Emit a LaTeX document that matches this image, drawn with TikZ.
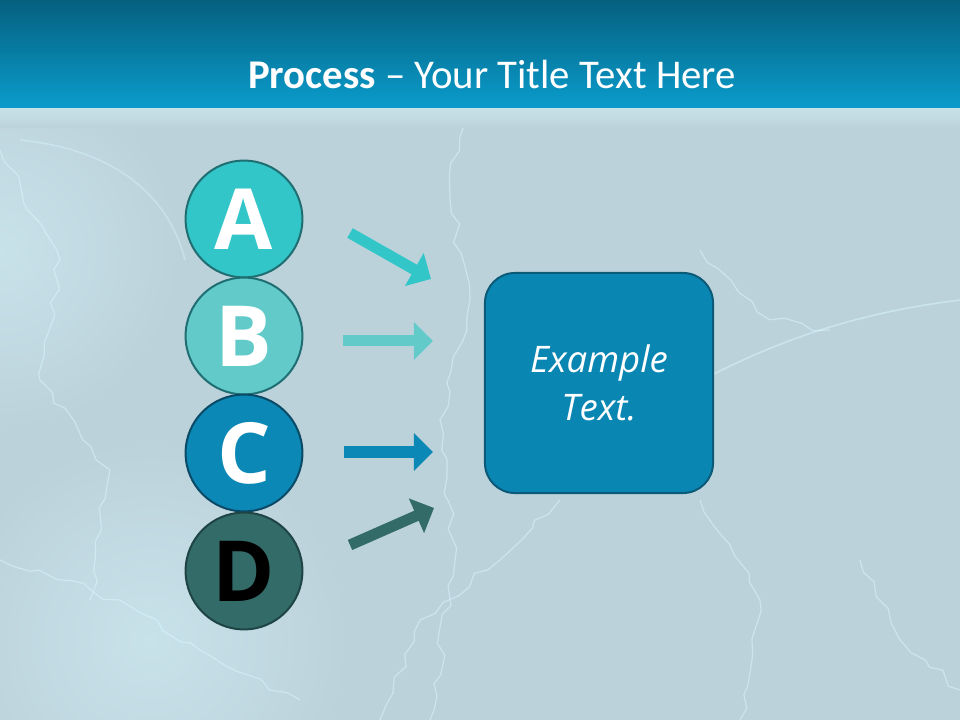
\documentclass[tikz,border=0pt]{standalone}
\usepackage{fontspec}
\setmainfont{Open Sans}
\newfontfamily\titlefont{Carlito}
\usetikzlibrary{arrows.meta, decorations.pathmorphing}

\definecolor{hdrtop}{HTML}{05607F}
\definecolor{hdrbot}{HTML}{0A9CCC}
\definecolor{bgfill}{HTML}{BCD2DB}
\definecolor{bglight}{HTML}{C8E2EA}
\definecolor{spark}{HTML}{D8F6FF}
\definecolor{colA}{HTML}{33C6C8}
\definecolor{colB}{HTML}{62CBC9}
\definecolor{colC}{HTML}{0B88B5}
\definecolor{colD}{HTML}{336B69}
\definecolor{lineA}{HTML}{1F6E72}
\definecolor{lineC}{HTML}{0A4A66}
\definecolor{lineD}{HTML}{1F4444}
\definecolor{boxfill}{HTML}{0A86B3}
\definecolor{boxline}{HTML}{0B5A78}

\begin{document}
\begin{tikzpicture}[
    x=0.025cm, y=-0.025cm,
    letter/.style={circle, draw, line width=0.05cm, minimum size=2.92cm, inner sep=0pt,
        font=\fontsize{60}{60}\selectfont\bfseries},
    flow/.style={line width=0.275cm, -{Triangle[length=0.48cm, width=0.92cm]}},
    result/.style={draw=boxline, fill=boxfill, line width=0.05cm, rounded corners=0.75cm,
        minimum width=5.7cm, minimum height=5.5cm, align=center, text=white,
        font=\fontsize{26}{34}\selectfont\itshape},
    bolt/.style={draw=spark, opacity=0.55, line width=0.03cm,
        decorate, decoration={random steps, segment length=0.35cm, amplitude=0.12cm}},
]
    \useasboundingbox (0,0) rectangle (960,720);
    \clip (0,0) rectangle (960,720);
    % background and title band
    \fill[bgfill] (0,0) rectangle (960,720);
    \shade[inner color=bglight, outer color=bgfill] (0,250) circle[radius=180];
    \shade[inner color=bglight, outer color=bgfill] (150,640) circle[radius=200];
    % lightning texture
    \draw[bolt] (462,110) -- (450,200) -- (470,300) -- (440,420) -- (455,560) -- (430,720);
    \draw[bolt] (0,150) -- (60,260) -- (40,380) -- (110,470) -- (90,600);
    \draw[bolt] (0,560) -- (120,600) -- (200,650) -- (300,700);
    \draw[bolt] (380,720) -- (420,620) -- (500,560) -- (560,500);
    \draw[bolt] (700,500) -- (760,600) -- (740,720);
    \draw[bolt] (700,250) -- (770,320) -- (830,330);
    \draw[bolt] (860,560) -- (900,640) -- (960,690);
    \draw[spark, opacity=0.5, line width=0.04cm] (712,375) .. controls (800,330) and (880,310) .. (960,300);
    \draw[spark, opacity=0.4, line width=0.04cm] (20,140) .. controls (120,150) and (170,200) .. (185,260);
    \shade[top color=bglight, bottom color=bgfill] (0,108) rectangle (960,128);
    \shade[top color=hdrtop, bottom color=hdrbot] (0,0) rectangle (960,108);
    \node[text=white, font=\titlefont\fontsize{29}{29}\selectfont] (title) at (492,74)
        {\textbf{Process} – Your Title Text Here};

    % letters
    \node[letter, fill=colA, draw=lineA, text=white] (A) at (244,219) {A};
    \node[letter, fill=colB, draw=lineA, text=white] (B) at (244,336) {B};
    \node[letter, fill=colC, draw=lineC, text=white] (C) at (244,453) {C};
    \node[letter, fill=colD, draw=lineD, text=black] (D) at (244,571) {D};

    % result box
    \node[result] (ex) at (599,383) {Example\\Text.};

    % arrows
    \coordinate (a1) at (350,233); \coordinate (a2) at (431,279);
    \coordinate (b1) at (343,341); \coordinate (b2) at (433,341);
    \coordinate (c1) at (344,452); \coordinate (c2) at (433,452);
    \coordinate (d1) at (350,545); \coordinate (d2) at (434,508);
    \draw[flow, colA] (a1) -- (a2);
    \draw[flow, colB] (b1) -- (b2);
    \draw[flow, colC] (c1) -- (c2);
    \draw[flow, colD] (d1) -- (d2);
\end{tikzpicture}
\end{document}
